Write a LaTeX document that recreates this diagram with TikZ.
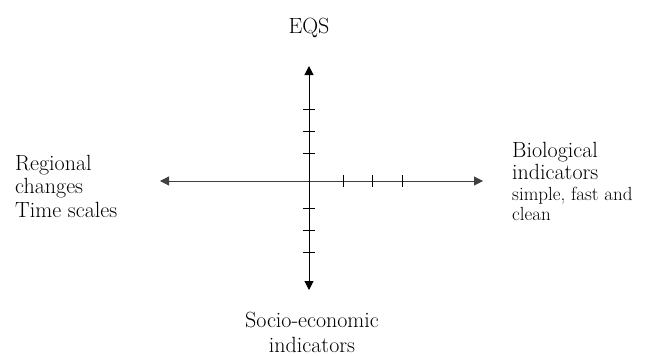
\documentclass[tikz,border=0pt]{standalone}
\usetikzlibrary{arrows.meta}

\tikzset{
  axis/.style={line width=1pt,{Triangle[length=9pt,width=9pt]}-{Triangle[length=9pt,width=9pt]}},
  tick/.style={line width=0.9pt},
  lbl/.style={font=\fontsize{22}{22}\selectfont,inner sep=0pt},
  sml/.style={font=\fontsize{19}{19.5}\selectfont,inner sep=0pt}
}

\begin{document}
\begin{tikzpicture}[x=1pt,y=-1pt]
	\useasboundingbox (0,0) rectangle (649,356);
	% axes
	\coordinate (o) at (309,181);
	\coordinate (west) at (160,181);
	\coordinate (east) at (483,181);
	\coordinate (north) at (309,66);
	\coordinate (south) at (309,290);
	\draw[axis,black!75] (west) -- (east);
	\draw[axis] (north) -- (south);
	\foreach \y in {-72,-50,-28,27,49,71}
		\draw[tick] (o) ++(-6,\y) -- ++(12,0);
	\foreach \x in {34,63,93}
		\draw[tick] (o) ++(\x,-6) -- ++(0,12);
	% labels (base = last line)
	\node[lbl,anchor=base] (eqs) at (309,33) {EQS};
	\node[lbl,anchor=base west,align=left,font=\fontsize{22}{23.5}\selectfont] (regional) at (15,217) {Regional\\changes\\Time scales};
	\node[lbl,anchor=base west,align=left] (bio) at (512,179) {Biological\\indicators};
	\node[sml,anchor=base west,align=left] (quality) at (512,220) {simple, fast and\\clean};
	\node[lbl,anchor=base,align=center,font=\fontsize{22}{24.5}\selectfont] (socio) at (312,352) {Socio-economic\\indicators};
\end{tikzpicture}
\end{document}
